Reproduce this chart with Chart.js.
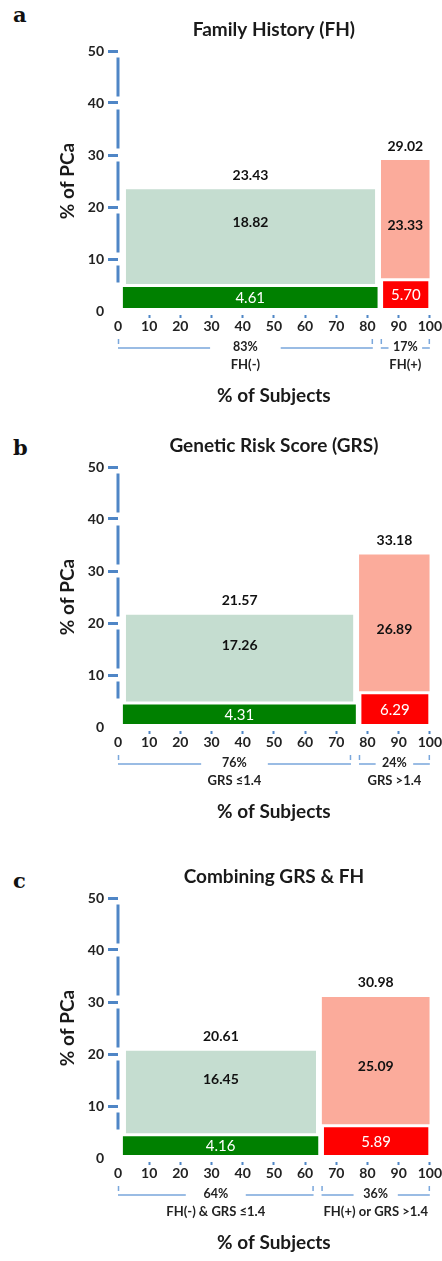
<!DOCTYPE html>
<html>
<head>
<meta charset="utf-8">
<script src="https://cdn.jsdelivr.net/npm/chart.js@4.4.0/dist/chart.umd.min.js"></script>
<style>
  body { margin: 0; background: #fff; width: 442px; height: 1261px; position: relative; overflow: hidden; }
  canvas { position: absolute; left: 0; }
  .letter { position: absolute; left: 13px; font-family: "DejaVu Serif", serif; font-weight: bold; font-size: 21px; line-height: 21px; color: #111; }
</style>
</head>
<body>
<div class="letter" style="top:4px">a</div>
<div class="letter" style="top:437px">b</div>
<div class="letter" style="top:870px">c</div>
<canvas id="chartA" width="442" height="415" style="top:0px"></canvas>
<canvas id="chartB" width="442" height="415" style="top:416px"></canvas>
<canvas id="chartC" width="442" height="415" style="top:847px"></canvas>
<script>
// values
const panelTitles = ['Family History (FH)', 'Genetic Risk Score (GRS)', 'Combining GRS & FH'];
const groupShares = [[83, 17], [76, 24], [64, 36]];          // % of subjects
const groupNames = [['FH(-)', 'FH(+)'], ['GRS \u22641.4', 'GRS >1.4'], ['FH(-) & GRS \u22641.4', 'FH(+) or GRS >1.4']];
const pcaLower = [[4.61, 5.70], [4.31, 6.29], [4.16, 5.89]];  // dark bars
const pcaUpper = [[18.82, 23.33], [17.26, 26.89], [16.45, 25.09]]; // light bars
const pcaTotal = [[23.43, 29.02], [21.57, 33.18], [20.61, 30.98]];
const xTicks = [0, 10, 20, 30, 40, 50, 60, 70, 80, 90, 100];
const yTicks = [0, 10, 20, 30, 40, 50];

const FONT = 'Lato, "Open Sans", sans-serif';
const BLUE = '#4f86c6';
const lowColors = ['#008000', '#ff0000'];
const highColors = ['#c5ddd0', '#fbab9b'];
const GAP_Y = 0.6;
// small visual insets of the blocks, in axis units [left, right]
const insetHigh = [[2.5, 0.5], [1.3, 0]];
const insetLow = [[1.5, -0.3], [2, 0.4]];
const upperLabelPos = [0.65, 0.45];

function edges(p, g, inset) {
    const x0 = g === 0 ? 0 : groupShares[p][0];
    const x1 = x0 + groupShares[p][g];
    return [x0 + inset[g][0], x1 - inset[g][1]];
}

function block(xs, y0, y1, color) {
    return {
        data: [{ x: xs[0], y: y1 }, { x: xs[1], y: y1 }],
        fill: { value: y0 },
        backgroundColor: color,
        borderWidth: 0,
        pointRadius: 0,
        pointHoverRadius: 0
    };
}

// broken vertical axis line, one piece between each pair of ticks
const axisLine = {
    id: 'axisLine',
    beforeDatasetsDraw(chart) {
        const { ctx, chartArea, scales: { y } } = chart;
        const gap = 13;
        ctx.save();
        ctx.strokeStyle = BLUE;
        ctx.lineWidth = 3;
        ctx.beginPath();
        for (let i = 0; i < yTicks.length - 1; i++) {
            const yb = i === 0 ? y.getPixelForValue(5.5) : y.getPixelForValue(yTicks[i]) - gap / 2;
            const yt = y.getPixelForValue(yTicks[i + 1]) + gap / 2;
            ctx.moveTo(chartArea.left, yt);
            ctx.lineTo(chartArea.left, yb);
        }
        ctx.stroke();
        ctx.restore();
    }
};

const segLabels = {
    id: 'segLabels',
    afterDatasetsDraw(chart, args, opts) {
        const { ctx, scales: { x, y } } = chart;
        const p = opts.panel;
        ctx.save();
        ctx.textAlign = 'center';
        ctx.textBaseline = 'middle';
        [0, 1].forEach(g => {
            const hx = edges(p, g, insetHigh);
            const lx = edges(p, g, insetLow);
            const cx = (x.getPixelForValue(hx[0]) + x.getPixelForValue(hx[1])) / 2;
            const lcx = (x.getPixelForValue(lx[0]) + x.getPixelForValue(lx[1])) / 2;
            const yTop = y.getPixelForValue(pcaTotal[p][g]);
            const yBot = y.getPixelForValue(pcaLower[p][g] + GAP_Y);
            ctx.fillStyle = '#111';
            ctx.font = 'bold 14px ' + FONT;
            ctx.fillText(pcaTotal[p][g].toFixed(2), cx, yTop - 14);
            ctx.fillText(pcaUpper[p][g].toFixed(2), cx, yBot - upperLabelPos[g] * (yBot - yTop));
            ctx.fillStyle = '#fff';
            ctx.font = '15px ' + FONT;
            const ly = (y.getPixelForValue(GAP_Y) + y.getPixelForValue(pcaLower[p][g])) / 2;
            ctx.fillText(pcaLower[p][g].toFixed(2), lcx, ly + 1);
        });
        ctx.restore();
    }
};

const brackets = {
    id: 'brackets',
    afterDraw(chart, args, opts) {
        const { ctx, chartArea, scales: { x } } = chart;
        const p = opts.panel;
        const lineY = chartArea.bottom + 37;
        ctx.save();
        ctx.textAlign = 'center';
        ctx.textBaseline = 'middle';
        let start = 0;
        groupShares[p].forEach((share, g) => {
            const xl = x.getPixelForValue(start) + (g ? 4 : 0);
            const xr = x.getPixelForValue(start + share) - (g ? 0 : 4);
            const cx = (xl + xr) / 2;
            const txt = share + '%';
            ctx.font = 'bold 12.5px ' + FONT;
            const half = ctx.measureText(txt).width / 2 + 0.09 * (xr - xl);
            ctx.strokeStyle = '#7aa7dc';
            ctx.lineWidth = 1.5;
            ctx.beginPath();
            ctx.moveTo(xl, lineY); ctx.lineTo(cx - half, lineY);
            ctx.moveTo(cx + half, lineY); ctx.lineTo(xr, lineY);
            ctx.moveTo(xl + 0.5, lineY - 9); ctx.lineTo(xl + 0.5, lineY - 4);
            ctx.moveTo(xr - 0.5, lineY - 9); ctx.lineTo(xr - 0.5, lineY - 4);
            ctx.stroke();
            ctx.fillStyle = '#222';
            ctx.fillText(txt, cx, lineY - 1);
            ctx.font = 'bold 13px ' + FONT;
            ctx.fillText(groupNames[p][g], cx, lineY + 17);
            start += share;
        });
        ctx.restore();
    }
};

function makePanel(id, p) {
    const datasets = [];
    [0, 1].forEach(g => {
        datasets.push(block(edges(p, g, insetLow), GAP_Y, pcaLower[p][g], lowColors[g]));
        datasets.push(block(edges(p, g, insetHigh), pcaLower[p][g] + GAP_Y, pcaTotal[p][g], highColors[g]));
    });
    const tickFont = { family: FONT, size: 14, weight: 'bold' };
    const titleFont = { family: FONT, size: 19, weight: 'bold' };
    new Chart(document.getElementById(id), {
        type: 'line',
        data: { datasets: datasets },
        plugins: [axisLine, segLabels, brackets],
        options: {
            responsive: false,
            animation: false,
            layout: { padding: { left: 50, right: 12, top: 0, bottom: 8 } },
            plugins: {
                legend: { display: false },
                tooltip: { enabled: false },
                title: { display: true, fullSize: false, text: panelTitles[p], font: titleFont, color: '#1a1a1a', padding: { top: 18, bottom: 10.2 } },
                segLabels: { panel: p },
                brackets: { panel: p }
            },
            scales: {
                x: {
                    type: 'linear', min: 0, max: 100,
                    afterBuildTicks: s => { s.ticks = xTicks.map(v => ({ value: v })); },
                    afterFit: s => { s.height = 96; },
                    ticks: { font: tickFont, color: '#222', padding: 0, maxRotation: 0, autoSkip: false },
                    grid: {
                        drawOnChartArea: false, tickLength: 7, tickWidth: 2,
                        tickColor: c => (c.tick && c.tick.value === 0) ? 'rgba(0,0,0,0)' : BLUE,
                        tickBorderDash: [0, 4, 3, 10]
                    },
                    border: { display: false },
                    title: { display: true, text: '% of Subjects', font: titleFont, color: '#1a1a1a', padding: { top: 0, bottom: 0 } }
                },
                y: {
                    min: 0, max: 50,
                    afterBuildTicks: s => { s.ticks = yTicks.map(v => ({ value: v })); },
                    afterFit: s => { s.width = 68; },
                    ticks: { font: tickFont, color: '#222', padding: 4 },
                    grid: {
                        drawOnChartArea: false, tickLength: 10, tickWidth: 3,
                        tickColor: c => (c.tick && c.tick.value === 0) ? 'rgba(0,0,0,0)' : BLUE
                    },
                    border: { display: false },
                    title: { display: true, text: '% of PCa', font: titleFont, color: '#1a1a1a', padding: { top: 6, bottom: 0 } }
                }
            }
        }
    });
}

makePanel('chartA', 0);
makePanel('chartB', 1);
makePanel('chartC', 2);
</script>
</body>
</html>
